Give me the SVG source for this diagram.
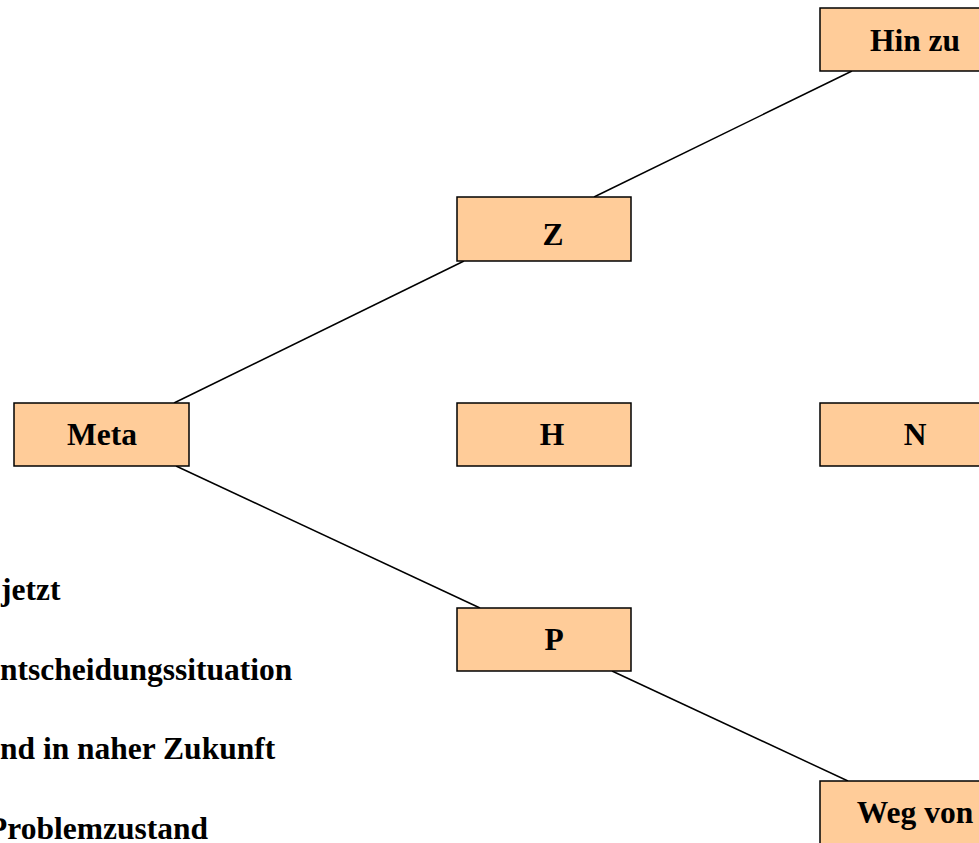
<svg xmlns="http://www.w3.org/2000/svg" width="979" height="843" viewBox="0 0 979 843">
<style>
.box{fill:#FFCC99;stroke:#000;stroke-width:1.5}
.lbl{font-family:"Liberation Serif","Times New Roman",serif;font-weight:bold;font-size:31.5px;fill:#000}
.c{text-anchor:middle}
.conn line{stroke:#000;stroke-width:1.5}
</style>
<rect width="979" height="843" fill="#fff"/>
<g class="conn">
<line x1="174" y1="403" x2="464" y2="261"/>
<line x1="594" y1="197" x2="852" y2="71"/>
<line x1="176" y1="466" x2="480" y2="608"/>
<line x1="612" y1="671" x2="848" y2="781"/>
</g>
<g id="meta"><rect class="box" x="14" y="403" width="175" height="63"/><text class="lbl c" x="102" y="445">Meta</text></g>
<g id="z"><rect class="box" x="457" y="197" width="174" height="64"/><text class="lbl c" x="553" y="245">Z</text></g>
<g id="h"><rect class="box" x="457" y="403" width="174" height="63"/><text class="lbl c" x="552" y="445">H</text></g>
<g id="p"><rect class="box" x="457" y="608" width="174" height="63"/><text class="lbl c" x="554" y="650">P</text></g>
<g id="hinzu"><rect class="box" x="820" y="8" width="175" height="63"/><text class="lbl c" x="915" y="51">Hin zu</text></g>
<g id="n"><rect class="box" x="820" y="403" width="175" height="63"/><text class="lbl c" x="915" y="445">N</text></g>
<g id="wegvon"><rect class="box" x="820" y="781" width="175" height="63"/><text class="lbl c" x="915" y="823">Weg von</text></g>
<g id="legend">
<text class="lbl" x="1" y="600">jetzt</text>
<text class="lbl" x="0" y="680">ntscheidungssituation</text>
<text class="lbl" x="0" y="759">nd in naher Zukunft</text>
<text class="lbl" x="-12" y="839">Problemzustand</text>
</g>
</svg>
